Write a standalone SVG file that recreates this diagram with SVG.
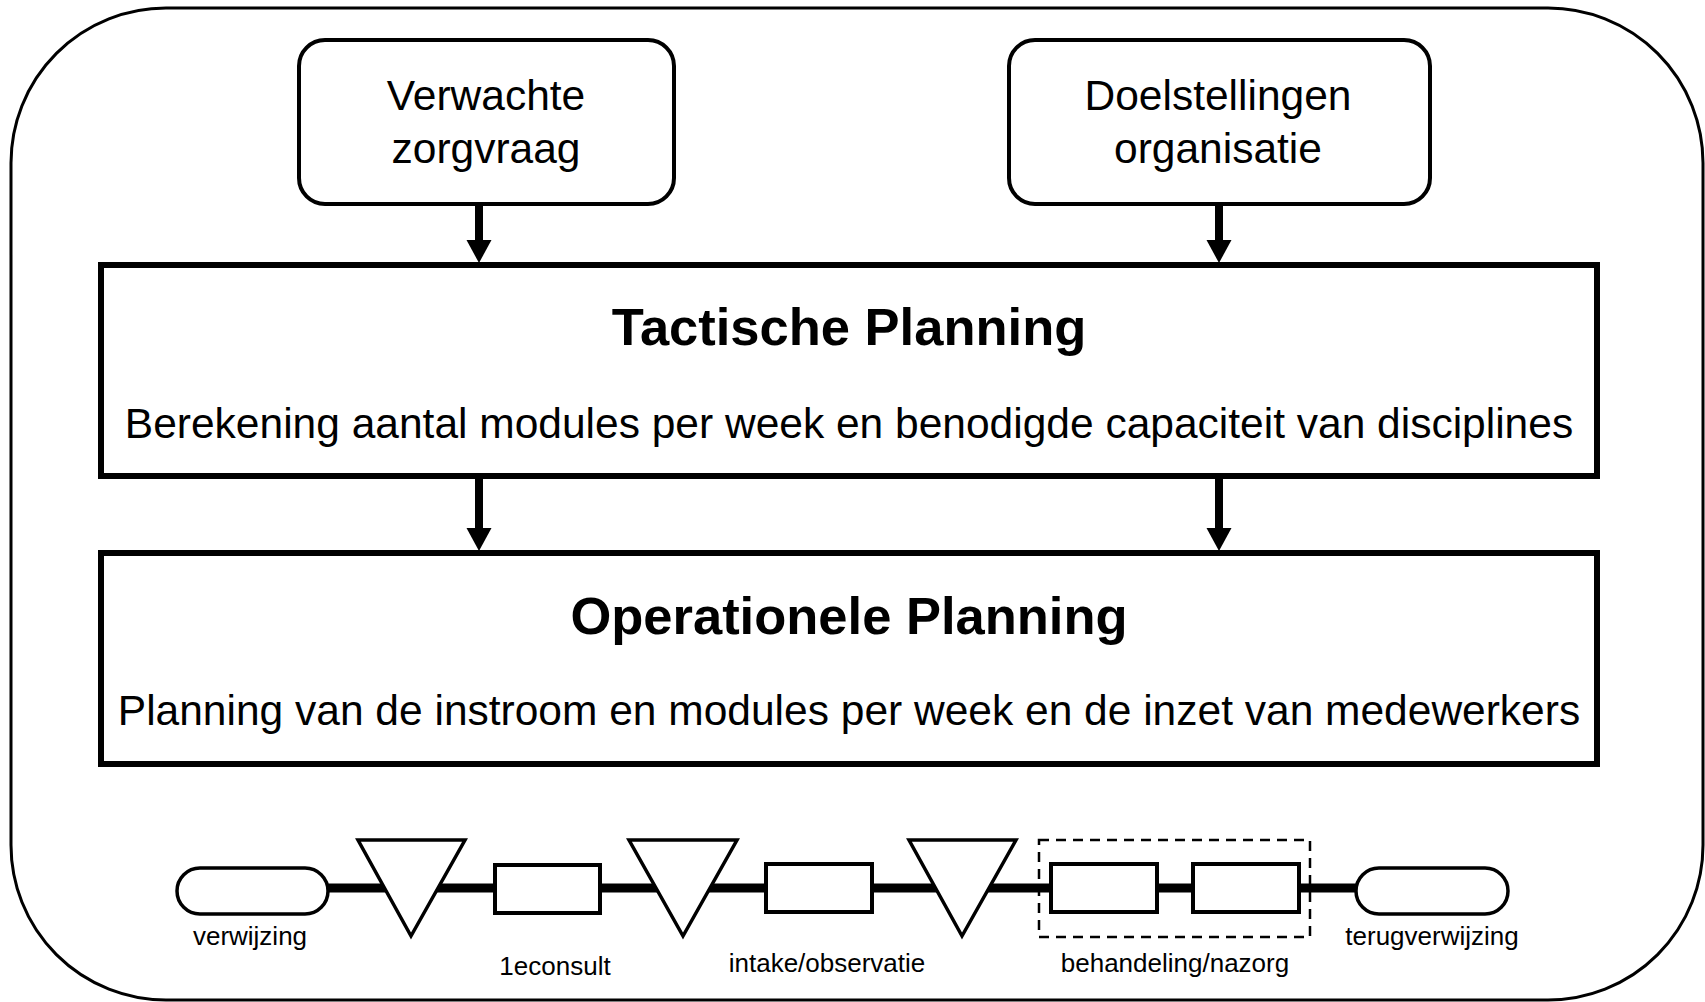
<svg xmlns="http://www.w3.org/2000/svg" width="1705" height="1002" viewBox="0 0 1705 1002">
<style>
.frame{fill:none;stroke:#000;stroke-width:3}
.input{fill:#fff;stroke:#000;stroke-width:4}
.level{fill:#fff;stroke:#000;stroke-width:6}
.body{font-family:"Liberation Sans",Arial,sans-serif;font-size:42.5px;fill:#000;text-anchor:middle}
.title{font-family:"Liberation Sans",Arial,sans-serif;font-size:52.5px;font-weight:bold;fill:#000;text-anchor:middle}
.lbl{font-family:"Liberation Sans",Arial,sans-serif;font-size:26px;fill:#000;text-anchor:middle}
.arrow{stroke:#000;stroke-width:8;fill:none}
.head{fill:#000}
.flow{stroke:#000;stroke-width:9;fill:none}
.tri{fill:#fff;stroke:#000;stroke-width:3.5;stroke-linejoin:miter}
.act{fill:#fff;stroke:#000;stroke-width:4}
.term{fill:#fff;stroke:#000;stroke-width:3.5}
.group{fill:none;stroke:#000;stroke-width:2.5;stroke-dasharray:10 7}
</style>
<rect class="frame" x="11" y="8" width="1692" height="992" rx="155" ry="155"/>

<g id="connectors">
<line class="arrow" x1="479" y1="204" x2="479" y2="241"/>
<path class="head" d="M466.5,240 L491.5,240 L479,263 Z"/>
<line class="arrow" x1="1219" y1="204" x2="1219" y2="241"/>
<path class="head" d="M1206.5,240 L1231.5,240 L1219,263 Z"/>
<line class="arrow" x1="479" y1="476" x2="479" y2="529"/>
<path class="head" d="M466.5,528 L491.5,528 L479,551 Z"/>
<line class="arrow" x1="1219" y1="476" x2="1219" y2="529"/>
<path class="head" d="M1206.5,528 L1231.5,528 L1219,551 Z"/>
<line class="flow" x1="328" y1="888" x2="1356" y2="888"/>
</g>

<g id="node-verwachte">
<rect class="input" x="299" y="40" width="375" height="164" rx="26" ry="26"/>
<text class="body" x="486" y="110">Verwachte</text>
<text class="body" x="486" y="163">zorgvraag</text>
</g>
<g id="node-doelstellingen">
<rect class="input" x="1009" y="40" width="421" height="164" rx="26" ry="26"/>
<text class="body" x="1218" y="110">Doelstellingen</text>
<text class="body" x="1218" y="163">organisatie</text>
</g>
<g id="node-tactisch">
<rect class="level" x="101" y="265" width="1496" height="211"/>
<text class="title" x="849" y="345">Tactische Planning</text>
<text class="body" x="849" y="438">Berekening aantal modules per week en benodigde capaciteit van disciplines</text>
</g>
<g id="node-operationeel">
<rect class="level" x="101" y="553" width="1496" height="211"/>
<text class="title" x="849" y="634">Operationele Planning</text>
<text class="body" x="849" y="725">Planning van de instroom en modules per week en de inzet van medewerkers</text>
</g>

<g id="node-verwijzing">
<rect class="term" x="177" y="868" width="151" height="46" rx="23" ry="23"/>
<text class="lbl" x="250" y="945">verwijzing</text>
</g>
<g id="node-wacht1">
<polygon class="tri" points="358,840 465,840 411,936"/>
</g>
<g id="node-1econsult">
<rect class="act" x="495" y="865" width="105" height="48"/>
<text class="lbl" x="555" y="975">1econsult</text>
</g>
<g id="node-wacht2">
<polygon class="tri" points="629,840 737,840 683,936"/>
</g>
<g id="node-intake">
<rect class="act" x="766" y="864" width="106" height="48"/>
<text class="lbl" x="827" y="972">intake/observatie</text>
</g>
<g id="node-wacht3">
<polygon class="tri" points="909,840 1016,840 962,936"/>
</g>
<g id="node-behandeling">
<rect class="group" x="1039" y="840" width="271" height="97"/>
<rect class="act" x="1051" y="864" width="106" height="48"/>
<rect class="act" x="1193" y="864" width="106" height="48"/>
<text class="lbl" x="1175" y="972">behandeling/nazorg</text>
</g>
<g id="node-terugverwijzing">
<rect class="term" x="1356" y="868" width="152" height="46" rx="23" ry="23"/>
<text class="lbl" x="1432" y="945">terugverwijzing</text>
</g>
</svg>
